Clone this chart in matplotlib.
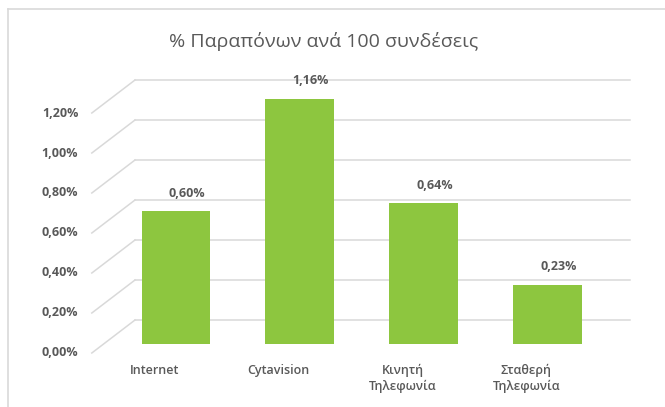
import numpy as np
import matplotlib.pyplot as plt
from matplotlib.lines import Line2D

# data
categories = ["Internet", "Cytavision", "Κινητή\nΤηλεφωνία", "Σταθερή\nΤηλεφωνία"]
values = [0.60, 1.16, 0.64, 0.23]          # % complaints per 100 connections
value_labels = ["0,60%", "1,16%", "0,64%", "0,23%"]
ticks = [0.0, 0.2, 0.4, 0.6, 0.8, 1.0, 1.2]
tick_labels = ["0,00%", "0,20%", "0,40%", "0,60%", "0,80%", "1,00%", "1,20%"]
title = "% Παραπόνων ανά 100 συνδέσεις"

# fake 3D perspective (offsets in value units / category units)
FRONT = -0.11       # where the wall meets the floor at the front
BACK = 0.055        # back wall
BAR_FOOT = -0.065   # bars reach below the zero plane
WALL_LEFT_FRONT = -0.68
WALL_LEFT_BACK = -0.331
WALL_RIGHT = 3.667

GREEN = "#8DC63F"
GRID = "#D9D9D9"
TEXT = "#595959"
FONT = ["Open Sans", "DejaVu Sans"]

plt.rcParams["font.family"] = FONT

fig = plt.figure(figsize=(6.65, 4.07), dpi=100)
ax = fig.add_axes([0, 0, 1, 1])
ax.set_xlim(-1.4216, 3.950)
ax.set_ylim(-0.38, 1.655)
ax.axis("off")

# gridlines: back wall + side wall diagonals
for t, lab in zip(ticks, tick_labels):
    ax.plot([WALL_LEFT_BACK, WALL_RIGHT], [t + BACK, t + BACK], color=GRID, lw=1.1, zorder=1)
    ax.plot([WALL_LEFT_FRONT, WALL_LEFT_BACK], [t + FRONT, t + BACK], color=GRID, lw=1.1, zorder=1)
    ax.text(WALL_LEFT_FRONT - 0.11, t + FRONT, lab, ha="right", va="center",
            fontsize=9, fontweight="bold", color=TEXT)

x = np.arange(len(categories))
heights = [v - BAR_FOOT for v in values]
ax.bar(x, heights, bottom=BAR_FOOT, width=0.557, color=GREEN, zorder=2)

for xi, v, lab in zip(x, values, value_labels):
    ax.text(xi + 0.09, v + 0.09, lab, ha="center", va="center",
            fontsize=9, fontweight="bold", color=TEXT, zorder=3)

for xi, cat in zip(x, categories):
    ax.text(xi - 0.17, -0.165, cat, ha="center", va="top", fontsize=9,
            fontweight="semibold", color=TEXT, linespacing=1.3)

fig.text(0.486, 0.897, title, ha="center", va="center", fontsize=14, color=TEXT)

# chart area border (top and left edges visible)
fig.add_artist(Line2D([8 / 665, 1], [1 - 9 / 407, 1 - 9 / 407], color=GRID, lw=1.2))
fig.add_artist(Line2D([8 / 665, 8 / 665], [0, 1 - 9 / 407], color=GRID, lw=1.2))

fig.savefig("out.png", dpi=100, facecolor="white")
